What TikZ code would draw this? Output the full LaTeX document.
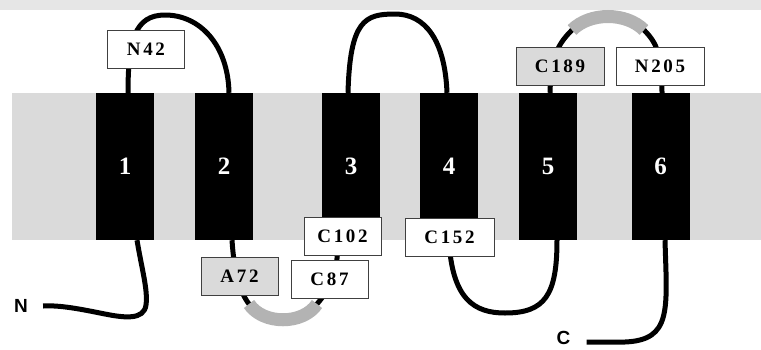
\documentclass[tikz,border=0pt]{standalone}
\usepackage{fontspec}
\setmainfont{Liberation Serif}
\newfontfamily\sitefont[LetterSpace=14]{Liberation Serif}
\newfontfamily\termfont{Liberation Sans}
\definecolor{membrane}{HTML}{DADADA}
\definecolor{topband}{HTML}{E6E6E6}
\definecolor{bridgegray}{HTML}{B3B3B3}

\begin{document}
\begin{tikzpicture}[x=1pt,y=-1pt,
  helix/.style={fill=black,minimum width=58pt,minimum height=147pt,inner sep=0pt,text=white,font=\bfseries\fontsize{25}{25}\selectfont},
  site/.style={draw=black!75,line width=0.9pt,fill=white,minimum width=77pt,minimum height=38pt,inner sep=0pt,font=\sitefont\bfseries\fontsize{19}{19}\selectfont},
  loop/.style={line width=5pt},
  bridge/.style={draw=bridgegray,line width=13pt},
  term/.style={inner sep=0pt,font=\termfont\bfseries\fontsize{19}{19}\selectfont}]
\useasboundingbox (0,0) rectangle (761,349);
\fill[topband] (0,0) rectangle (761,10);
\fill[membrane] (12,93) rectangle (761,240);
% helices
\node[helix] (h1) at (125,166.5) {1};
\node[helix] (h2) at (224,166.5) {2};
\node[helix] (h3) at (351,166.5) {3};
\node[helix] (h4) at (449,166.5) {4};
\node[helix] (h5) at (548,166.5) {5};
\node[helix] (h6) at (660.5,166.5) {6};
% termini
\node[term] (nterm) at (21,306) {N};
\node[term] (cterm) at (563.5,338) {C};
% disulfide ends
\coordinate (ssa) at (572,30);
\coordinate (ssb) at (644,30);
\coordinate (ssc) at (249,304);
\coordinate (ssd) at (317,304);
% loops
\draw[loop] ([xshift=12pt]h1.south) .. controls (142,270) and (148,290) .. (146,305)
  .. controls (144,320) and (125,318) .. (105,314)
  .. controls (80,309) and (60,305) .. ([xshift=15pt]nterm.east);
\draw[loop] ([xshift=3pt]h1.north) .. controls (128,40) and (135,15) .. (165,15)
  .. controls (200,15) and (228,45) .. ([xshift=5pt]h2.north);
\draw[loop] ([xshift=8pt]h2.south) .. controls (234,270) and (239,291) .. (ssc)
  .. controls (263,325) and (303,325) .. (ssd)
  .. controls (329,290) and (338,275) .. ([xshift=-13pt]h3.south);
\draw[loop] ([xshift=-3pt]h3.north) .. controls (350,20) and (365,14) .. (395,14)
  .. controls (425,14) and (445,40) .. ([xshift=-2pt]h4.north);
\draw[loop] (h4.south) .. controls (452,300) and (475,313) .. (505,313)
  .. controls (545,313) and (557,295) .. ([xshift=9pt]h5.south);
\draw[loop] ([xshift=2pt]h5.north) .. controls (551,55) and (559,43) .. (ssa)
  .. controls (590,12) and (626,12) .. (ssb)
  .. controls (657,43) and (662,55) .. ([xshift=1.5pt]h6.north);
\draw[loop] ([xshift=4.5pt]h6.south) .. controls (667,310) and (672,340) .. (625,342)
  .. controls (610,342) and (597,342) .. ([xshift=16pt,yshift=-4pt]cterm.east);
% disulfide bridges
\draw[bridge] (ssa) .. controls (590,12) and (626,12) .. (ssb);
\draw[bridge] (ssc) .. controls (263,325) and (303,325) .. (ssd);
% residues
\node[site] (n42) at (146,49) {N42};
\node[site,fill=membrane,minimum width=88pt] (c189) at (560,66) {C189};
\node[site,minimum width=88pt] (n205) at (660,66) {N205};
\node[site] (c102) at (342.5,236) {C102};
\node[site,fill=membrane] (a72) at (239.5,276) {A72};
\node[site] (c87) at (329.5,279) {C87};
\node[site,minimum width=89pt] (c152) at (449.5,237) {C152};
\end{tikzpicture}
\end{document}
